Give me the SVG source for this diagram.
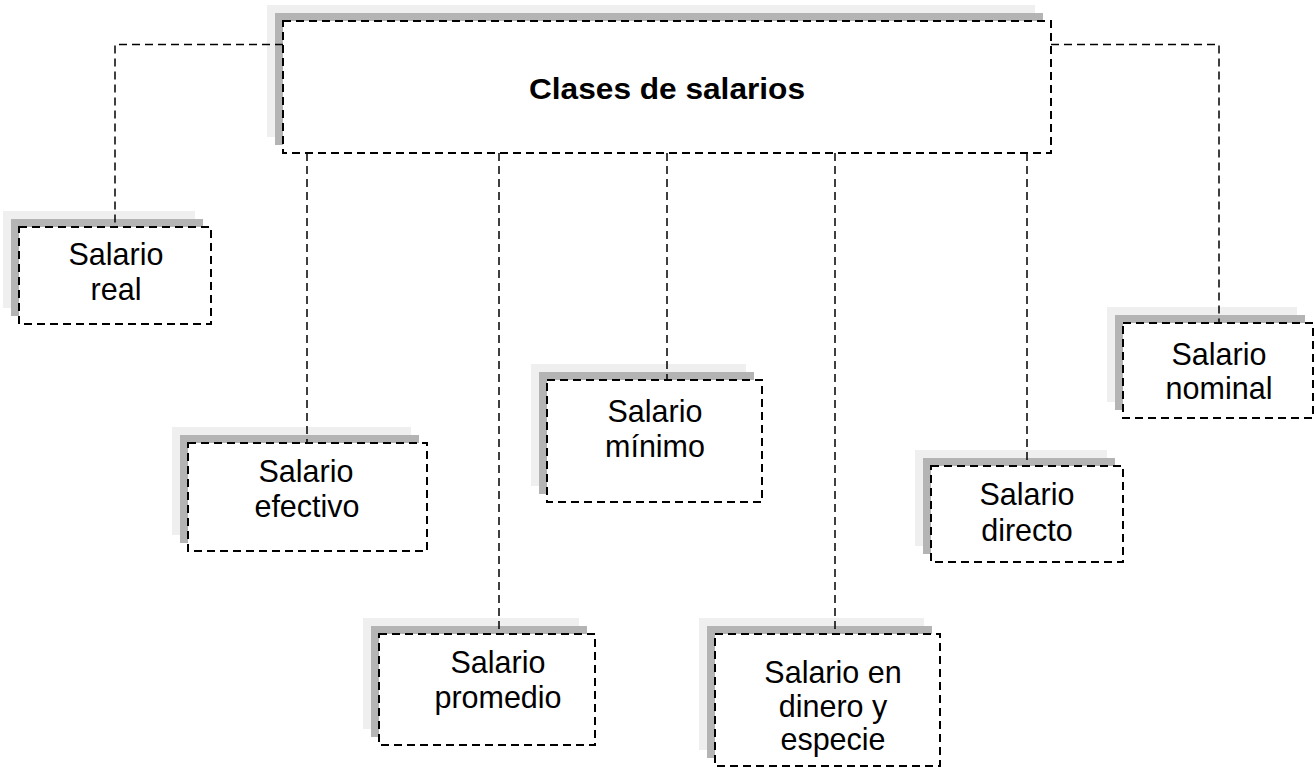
<svg xmlns="http://www.w3.org/2000/svg" width="1315" height="771" viewBox="0 0 1315 771">
<style>
.s1{fill:#efefef}
.s2{fill:#b4b4b4}
.box{fill:#fff;stroke:#000;stroke-width:2;stroke-dasharray:8 5}
.con{fill:none;stroke:#000;stroke-width:1.5;stroke-dasharray:8 5}
text{font-family:"Liberation Sans",Arial,sans-serif;font-size:30.5px;fill:#000;text-anchor:middle}
.title{font-weight:bold;font-size:29.5px}
</style>
<rect width="1315" height="771" fill="#fff"/>
<g id="node-main">
<rect class="s1" x="267" y="5" width="768" height="132"/>
<rect class="s2" x="275" y="13" width="768" height="132"/>
<rect class="box" x="283" y="21" width="768" height="132"/>
<text class="title" x="667" y="99" textLength="276" lengthAdjust="spacingAndGlyphs">Clases de salarios</text>
</g>
<g id="node-real">
<rect class="s1" x="3" y="211" width="192" height="97"/>
<rect class="s2" x="11" y="219" width="192" height="97"/>
<rect class="box" x="19" y="227" width="192" height="97"/>
<text x="116" y="265">Salario</text>
<text x="116" y="300">real</text>
</g>
<g id="node-efectivo">
<rect class="s1" x="172" y="427" width="239" height="108"/>
<rect class="s2" x="180" y="435" width="239" height="108"/>
<rect class="box" x="188" y="443" width="239" height="108"/>
<text x="306" y="482">Salario</text>
<text x="307" y="517">efectivo</text>
</g>
<g id="node-promedio">
<rect class="s1" x="363" y="618" width="216" height="111"/>
<rect class="s2" x="371" y="626" width="216" height="111"/>
<rect class="box" x="379" y="634" width="216" height="111"/>
<text x="498" y="673">Salario</text>
<text x="498" y="708">promedio</text>
</g>
<g id="node-minimo">
<rect class="s1" x="531" y="364" width="215" height="122"/>
<rect class="s2" x="539" y="372" width="215" height="122"/>
<rect class="box" x="547" y="380" width="215" height="122"/>
<text x="655" y="422">Salario</text>
<text x="655" y="457">mínimo</text>
</g>
<g id="node-dinero">
<rect class="s1" x="699" y="618" width="225" height="132"/>
<rect class="s2" x="707" y="626" width="225" height="132"/>
<rect class="box" x="715" y="634" width="225" height="132"/>
<text x="833" y="683">Salario en</text>
<text x="833" y="717">dinero y</text>
<text x="833" y="750">especie</text>
</g>
<g id="node-directo">
<rect class="s1" x="915" y="450" width="192" height="96"/>
<rect class="s2" x="923" y="458" width="192" height="96"/>
<rect class="box" x="931" y="466" width="192" height="96"/>
<text x="1027" y="505">Salario</text>
<text x="1027" y="541">directo</text>
</g>
<g id="node-nominal">
<rect class="s1" x="1107" y="307" width="190" height="95"/>
<rect class="s2" x="1115" y="315" width="190" height="95"/>
<rect class="box" x="1123" y="323" width="190" height="95"/>
<text x="1219" y="365">Salario</text>
<text x="1219" y="399">nominal</text>
</g>
<g id="connectors">
<path class="con" d="M283 44.5H115V227"/>
<path class="con" d="M1051 44.5H1219V323"/>
<path class="con" d="M307 153V443"/>
<path class="con" d="M499 153V634"/>
<path class="con" d="M667 153V380"/>
<path class="con" d="M835 153V634"/>
<path class="con" d="M1027 153V466"/>
</g>
</svg>
